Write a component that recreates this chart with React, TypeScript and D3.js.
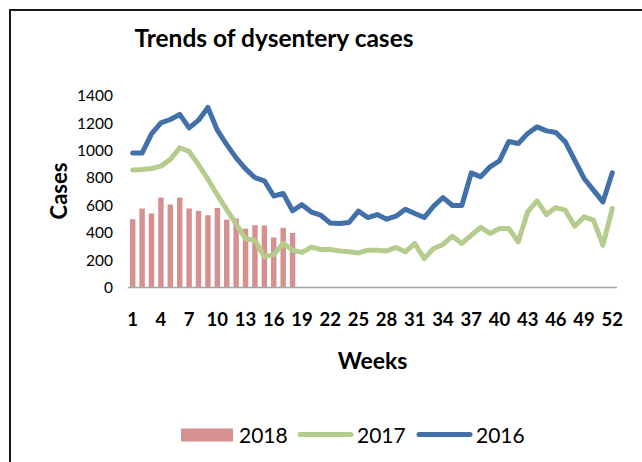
import * as d3 from 'd3'

const weeks = [
  1, 2, 3, 4, 5, 6, 7, 8, 9, 10, 11, 12, 13, 14, 15, 16, 17, 18, 19, 20, 21, 22, 23, 24, 25, 26,
  27, 28, 29, 30, 31, 32, 33, 34, 35, 36, 37, 38, 39, 40, 41, 42, 43, 44, 45, 46, 47, 48, 49, 50, 51, 52,
]

const cases2018 = [498, 576, 540, 656, 605, 656, 576, 559, 527, 580, 495, 503, 430, 454, 452, 365, 435, 398]

const cases2017 = [
  856, 860, 868, 885, 934, 1018, 992, 895, 790, 675, 568, 462, 356, 344, 225, 240, 322, 272, 256, 294,
  277, 277, 267, 260, 252, 272, 272, 267, 292, 260, 321, 211, 284, 314, 374, 321, 381, 438, 394, 430,
  430, 333, 551, 632, 532, 583, 564, 447, 515, 491, 309, 576,
]

const cases2016 = [
  980, 980, 1120, 1200, 1225, 1262, 1164, 1220, 1313, 1147, 1042, 945, 865, 801, 778, 667, 686, 560, 604, 550,
  527, 470, 467, 474, 557, 510, 532, 498, 520, 571, 540, 510, 593, 656, 598, 598, 836, 807, 880, 923,
  1065, 1050, 1123, 1171, 1142, 1130, 1062, 928, 795, 710, 624, 836,
]

const yTicks = [0, 200, 400, 600, 800, 1000, 1200, 1400]

const COLOR_2018 = '#d4918f'
const COLOR_2017 = '#b5cc8e'
const COLOR_2016 = '#4270a8'
const FONT = 'Lato, "DejaVu Sans", sans-serif'

export default function App() {
  const width = 642
  const height = 462
  const plot = { left: 128, right: 617, top: 95.5, bottom: 287.5 }

  const x = d3
    .scaleBand<number>()
    .domain(weeks)
    .range([plot.left, plot.right])
    .padding(0)

  const y = d3.scaleLinear().domain([0, 1400]).range([plot.bottom, plot.top])

  const cx = (w: number) => (x(w) ?? 0) + x.bandwidth() / 2
  const barW = x.bandwidth() * 0.58

  const line = d3
    .line<number>()
    .x((_, i) => cx(weeks[i]))
    .y(d => y(d))

  const xLabels = weeks.filter(w => (w - 1) % 3 === 0)

  return (
    <div style={{ position: 'absolute', left: 0, top: 0 }}>
      <svg width={width} height={height} style={{ display: 'block', background: '#fff' }}>
        <rect x={10} y={10} width={700} height={600} fill="#fff" stroke="#1a1a1a" strokeWidth={2} />

        <text
          x={274}
          y={47}
          textAnchor="middle"
          fontFamily={FONT}
          fontWeight="bold"
          fontSize={24.5}
          fill="#000"
        >
          Trends of dysentery cases
        </text>

        {/* y tick labels */}
        {yTicks.map(t => (
          <text
            key={t}
            x={113}
            y={y(t)}
            dy="0.36em"
            textAnchor="end"
            fontFamily={FONT}
            fontSize={15.5}
            fill="#000"
          >
            {t}
          </text>
        ))}

        <text
          transform={`translate(67,191) rotate(-90)`}
          textAnchor="middle"
          fontFamily={FONT}
          fontWeight="bold"
          fontSize={22}
          fill="#000"
        >
          Cases
        </text>

        {/* 2018 bars */}
        {cases2018.map((v, i) => (
          <rect
            key={i}
            x={cx(weeks[i]) - barW / 2}
            y={y(v)}
            width={barW}
            height={y(0) - y(v)}
            fill={COLOR_2018}
          />
        ))}

        {/* category axis */}
        <line x1={plot.left} x2={plot.right} y1={y(0)} y2={y(0)} stroke="#a6a6a6" strokeWidth={1.5} />

        <path
          d={line(cases2017) ?? ''}
          fill="none"
          stroke={COLOR_2017}
          strokeWidth={5}
          strokeLinejoin="round"
          strokeLinecap="round"
        />
        <path
          d={line(cases2016) ?? ''}
          fill="none"
          stroke={COLOR_2016}
          strokeWidth={5}
          strokeLinejoin="round"
          strokeLinecap="round"
        />

        {xLabels.map(w => (
          <text
            key={w}
            x={cx(w)}
            y={326}
            textAnchor="middle"
            fontFamily={FONT}
            fontWeight="bold"
            fontSize={18.5}
            fill="#000"
          >
            {w}
          </text>
        ))}

        <text
          x={372.5}
          y={369}
          textAnchor="middle"
          fontFamily={FONT}
          fontWeight="bold"
          fontSize={23}
          fill="#000"
        >
          Weeks
        </text>

        {/* legend */}
        <rect x={181} y={428.5} width={52} height={13} fill={COLOR_2018} />
        <text x={239} y={442.5} fontFamily={FONT} fontSize={21} fill="#000">2018</text>
        <line x1={300} x2={351} y1={434.5} y2={434.5} stroke={COLOR_2017} strokeWidth={5} strokeLinecap="round" />
        <text x={357} y={442.5} fontFamily={FONT} fontSize={21} fill="#000">2017</text>
        <line x1={419} x2={470} y1={434.5} y2={434.5} stroke={COLOR_2016} strokeWidth={5} strokeLinecap="round" />
        <text x={476} y={442.5} fontFamily={FONT} fontSize={21} fill="#000">2016</text>
      </svg>
    </div>
  )
}
